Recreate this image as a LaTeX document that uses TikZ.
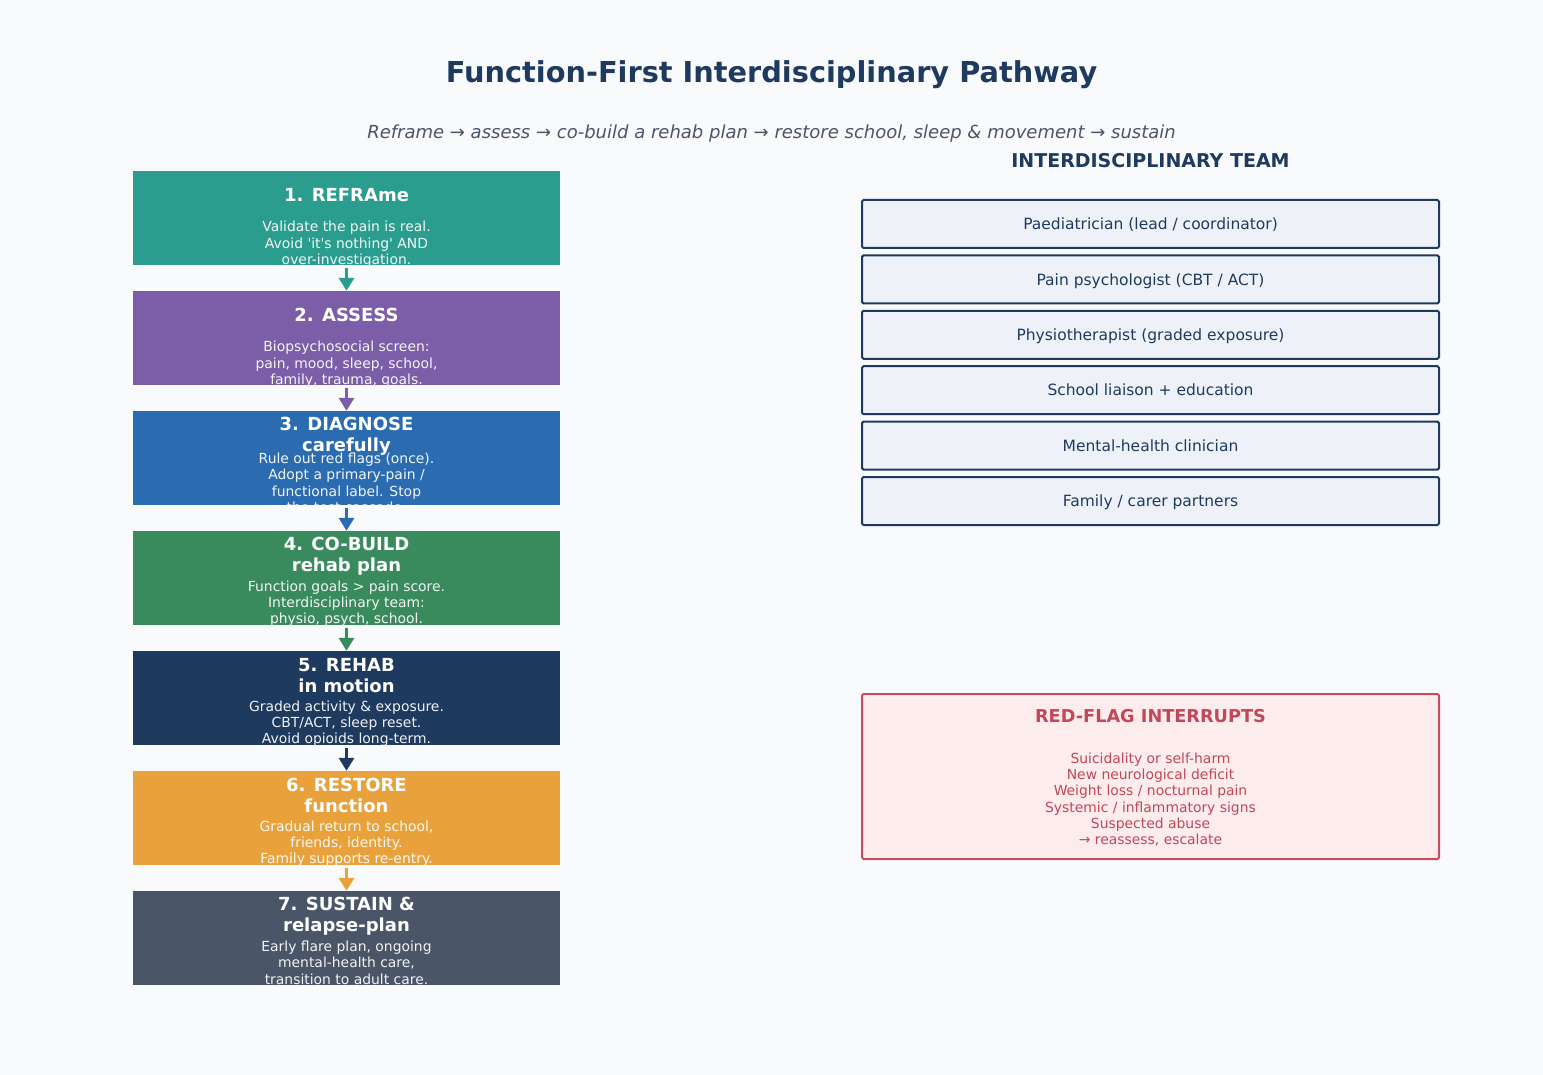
\documentclass[tikz,border=0pt]{standalone}
\usepackage{fontspec}
\setmainfont{DejaVu Sans}
\usetikzlibrary{arrows.meta}
\definecolor{bgc}{HTML}{F8FAFC}
\definecolor{cA}{HTML}{2A9D8F}
\definecolor{cB}{HTML}{7B5EA7}
\definecolor{cC}{HTML}{2B6CB0}
\definecolor{cD}{HTML}{398A5D}
\definecolor{cE}{HTML}{1E3A5F}
\definecolor{cF}{HTML}{E9A23B}
\definecolor{cG}{HTML}{4A5568}
\definecolor{teamfill}{HTML}{EEF2F8}
\definecolor{redfill}{HTML}{FDECEC}
\definecolor{redline}{HTML}{C44E60}
\definecolor{redtext}{HTML}{C0485A}
\tikzset{
  stepbox/.style={draw=none, minimum width=427pt, minimum height=94pt, inner sep=0pt},
  steptitle/.style={text=white, align=center, inner sep=0pt, font=\fontsize{18}{20.9}\selectfont\bfseries},
  stepbody/.style={text=white, text opacity=0.93, align=center, inner sep=0pt, font=\fontsize{13.9}{16.2}\selectfont},
  arr/.style={draw=#1, line width=3.5pt, -{Triangle[width=15pt,length=13pt]}, shorten <=3pt},
  teambox/.style={draw=cE, line width=2pt, fill=teamfill, rounded corners=1.5pt, minimum width=577pt, minimum height=48pt, inner sep=0pt, text height=11.3pt, text depth=0pt, text=cE, font=\fontsize{15.5}{17.8}\selectfont},
}
\begin{document}
\begin{tikzpicture}[x=1pt,y=-1pt]
\fill[bgc] (0,0) rectangle (1543,1075);
\useasboundingbox (0,0) rectangle (1543,1075);

\node[text=cE, font=\fontsize{28.8}{33}\selectfont\bfseries, inner sep=0pt, anchor=base] (title) at (771.5,82.5) {Function-First Interdisciplinary Pathway};
\node[text=cG, font=\fontsize{18}{21}\selectfont\itshape, inner sep=0pt, anchor=base] (subtitle) at (771.5,138.5) {Reframe → assess → co-build a rehab plan → restore school, sleep \& movement → sustain};

% steps
\foreach \i/\c/\yc in {1/cA/218, 2/cB/338, 3/cC/458, 4/cD/578, 5/cE/698, 6/cF/818, 7/cG/938}{
  \node[stepbox, fill=\c] (b\i) at (346.5,\yc) {};
}
\newcommand{\stepcontent}[5]{%
  \begin{scope}
    \clip (#1.north west) rectangle ([yshift=-4pt]#1.south east);
    \node[steptitle] (#1t) at ([yshift=-#2pt]#1.north) {#3};
    \node[stepbody] (#1d) at ([yshift=-#5pt]#1.north) {#4};
  \end{scope}}
\stepcontent{b1}{24}{1. REFRAme}{Validate the pain is real.\\Avoid \textquotesingle it\textquotesingle s nothing\textquotesingle\ AND\\over-investigation.}{73.5}
\stepcontent{b2}{24}{2. ASSESS}{Biopsychosocial screen:\\pain, mood, sleep, school,\\family, trauma, goals.}{73.5}
\stepcontent{b3}{25.5}{3. DIAGNOSE\\carefully}{Rule out red flags (once).\\Adopt a primary-pain /\\functional label. Stop\\the test cascade.}{72}
\stepcontent{b4}{25.5}{4. CO-BUILD\\rehab plan}{Function goals > pain score.\\Interdisciplinary team:\\physio, psych, school.}{73}
\stepcontent{b5}{25}{5. REHAB\\in motion}{Graded activity \& exposure.\\CBT/ACT, sleep reset.\\Avoid opioids long-term.}{73}
\stepcontent{b6}{25}{6. RESTORE\\function}{Gradual return to school,\\friends, identity.\\Family supports re-entry.}{73}
\stepcontent{b7}{25}{7. SUSTAIN \&\\relapse-plan}{Early flare plan, ongoing\\mental-health care,\\transition to adult care.}{72}

\draw[arr=cA] (b1.south) -- (b2.north);
\draw[arr=cB] (b2.south) -- (b3.north);
\draw[arr=cC] (b3.south) -- (b4.north);
\draw[arr=cD] (b4.south) -- (b5.north);
\draw[arr=cE] (b5.south) -- (b6.north);
\draw[arr=cF] (b6.south) -- (b7.north);

% team
\node[text=cE, font=\fontsize{19}{22}\selectfont\bfseries, inner sep=0pt, anchor=base] (teamhead) at (1150.5,168) {INTERDISCIPLINARY TEAM};
\node[teambox] (m1) at (1150.5,224) {Paediatrician (lead / coordinator)};
\node[teambox] (m2) at (1150.5,279.4) {Pain psychologist (CBT / ACT)};
\node[teambox] (m3) at (1150.5,334.8) {Physiotherapist (graded exposure)};
\node[teambox] (m4) at (1150.5,390.2) {School liaison + education};
\node[teambox] (m5) at (1150.5,445.6) {Mental-health clinician};
\node[teambox] (m6) at (1150.5,501) {Family / carer partners};

% red flags
\node[draw=redline, line width=2pt, fill=redfill, minimum width=577pt, minimum height=165pt, inner sep=0pt, rounded corners=1.5pt] (rf) at (1150.5,776.5) {};
\node[text=redtext, font=\fontsize{17.7}{20}\selectfont\bfseries, inner sep=0pt] (rft) at (1150.5,716) {RED-FLAG INTERRUPTS};
\node[text=redtext, align=center, inner sep=0pt, font=\fontsize{13.9}{16.2}\selectfont] (rfb) at (1150.5,799.5) {Suicidality or self-harm\\New neurological deficit\\Weight loss / nocturnal pain\\Systemic / inflammatory signs\\Suspected abuse\\→ reassess, escalate};
\end{tikzpicture}
\end{document}
